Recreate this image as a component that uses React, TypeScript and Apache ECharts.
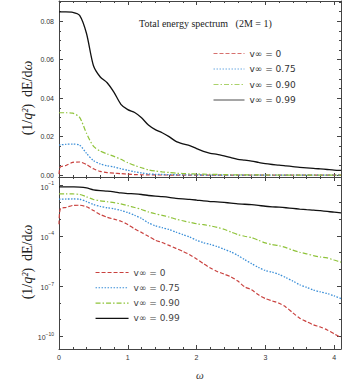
import React, { useEffect, useRef } from "react";
import * as echarts from "echarts";

// ω grid (x values)
const omega = [
  0, 0.02, 0.1, 0.2, 0.3, 0.4, 0.5, 0.6, 0.7, 0.8, 0.9, 1.0, 1.1, 1.2, 1.3, 1.4, 1.5,
  1.6, 1.7, 1.8, 1.9, 2.0, 2.1, 2.2, 2.3, 2.4, 2.5, 2.6, 2.7, 2.8, 2.9, 3.0, 3.1,
  3.2, 3.3, 3.4, 3.5, 3.6, 3.7, 3.8, 3.9, 4.0, 4.1,
];

// (1/q²) dE/dω for v∞ = 0
const specV0 = [
  0.0005, 0.0042, 0.005, 0.0066, 0.0068, 0.0055, 0.0033, 0.0019, 0.0013, 0.001, 0.00075,
  0.00048, 0.00026, 0.00016, 0.000095, 0.000055, 0.00004, 0.000027, 0.000018,
  0.000012, 0.0000075, 0.0000042, 0.0000022, 0.0000012, 0.00000075, 0.00000052,
  0.00000036, 0.0000002, 0.00000009, 0.00000006, 0.00000003, 0.000000018,
  0.000000013, 0.0000000095, 0.0000000055, 0.0000000025, 0.0000000012,
  0.00000000075, 0.00000000048, 0.00000000036, 0.00000000024, 0.00000000014,
  0.000000000085,
];
// v∞ = 0.75
const specV075 = [
  0.0156, 0.0157, 0.016, 0.0161, 0.0156, 0.0113, 0.0075, 0.0058, 0.0048, 0.0042, 0.0033,
  0.0025, 0.0017, 0.0011, 0.0006, 0.0004, 0.00031, 0.00024, 0.00017, 0.00012,
  0.000085, 0.000055, 0.000039, 0.000031, 0.000023, 0.000016, 0.000011,
  0.0000068, 0.0000038, 0.0000022, 0.0000013, 0.00000085, 0.00000068, 0.0000005,
  0.00000032, 0.0000002, 0.00000012, 0.000000085, 0.000000058, 0.000000045,
  0.000000036, 0.000000026, 0.000000018,
];
// v∞ = 0.90
const specV090 = [
  0.0324, 0.0324, 0.0324, 0.0322, 0.03, 0.0217, 0.015, 0.0125, 0.011, 0.0097, 0.0082,
  0.0064, 0.005, 0.0038, 0.0027, 0.0021, 0.0017, 0.00135, 0.001, 0.0008,
  0.00065, 0.00053, 0.00047, 0.0004, 0.00032, 0.00025, 0.00017, 0.00012,
  0.000095, 0.000079, 0.000055, 0.000038, 0.00003, 0.000026, 0.00002, 0.000014,
  0.0000105, 0.0000085, 0.0000066, 0.0000055, 0.0000048, 0.0000036, 0.0000027,
];
// v∞ = 0.99
const specV099 = [
  0.0848, 0.0848, 0.0848, 0.0846, 0.083, 0.0736, 0.057, 0.051, 0.048, 0.043, 0.0368,
  0.034, 0.0325, 0.0298, 0.026, 0.0236, 0.022, 0.02, 0.0175, 0.0162, 0.0153,
  0.0138, 0.0123, 0.0113, 0.0108, 0.01, 0.0091, 0.0082, 0.0078, 0.0073, 0.0066,
  0.0059, 0.0055, 0.0052, 0.0048, 0.0044, 0.004, 0.0037, 0.0035, 0.0032, 0.0029,
  0.0026, 0.0024,
];

const seriesNames = ["v∞ = 0", "v∞ = 0.75", "v∞ = 0.90", "v∞ = 0.99"];
const xTickLabels = [0, 1, 2, 3, 4];
const linTickLabels = [0, 0.02, 0.04, 0.06, 0.08];
const logTickLabels = [-10, -7, -4, -1]; // exponents of 10
const titleText = "Total energy spectrum   (2M = 1)";

export default function App() {
  const ref = useRef<HTMLDivElement>(null);
  useEffect(() => {
    if (!ref.current) return;
    const chart = echarts.init(ref.current, undefined, { renderer: "svg" });

    const frame = "#444";
    const sans = "Liberation Sans";
    const serif = "Liberation Serif";
    const tickLine = { color: frame, width: 1 };

    const xMinor: number[] = [];
    for (let i = 1; i <= 20; i++) {
      const v = Math.round(i * 2) / 10;
      if (Math.abs(v - Math.round(v)) > 1e-9) xMinor.push(v);
    }
    const yLinMinor: number[] = [];
    for (let i = 1; i <= 18; i++) {
      const v = Math.round(i * 5) / 1000;
      if (i % 4 !== 0) yLinMinor.push(v);
    }
    const yLogAll: number[] = [];
    for (let e = -10; e <= -1; e++) yLogAll.push(e);
    const yLogMinor = yLogAll.filter((e) => logTickLabels.indexOf(e) < 0);

    const xAxesFor = (gridIndex: number, withLabels: boolean) => {
      const base = {
        type: "value" as const,
        gridIndex,
        min: 0,
        max: 4.1,
        splitLine: { show: false },
      };
      return [
        {
          ...base,
          position: "bottom",
          axisLine: { show: true, onZero: false, lineStyle: tickLine },
          axisTick: { show: true, inside: true, length: 4, customValues: xTickLabels, lineStyle: tickLine },
          axisLabel: {
            show: withLabels,
            customValues: xTickLabels,
            margin: 5,
            fontFamily: sans,
            fontSize: 7,
            color: "#333",
          },
          name: withLabels ? "ω" : "",
          nameLocation: "middle",
          nameGap: 20,
          nameTextStyle: { fontFamily: serif, fontStyle: "italic", fontSize: 11, color: "#333" },
        },
        {
          ...base,
          position: "bottom",
          axisLine: { show: false, onZero: false },
          axisTick: { show: true, inside: true, length: 2, customValues: xMinor, lineStyle: tickLine },
          axisLabel: { show: false },
        },
        {
          ...base,
          position: "top",
          axisLine: { show: true, onZero: false, lineStyle: tickLine },
          axisTick: { show: true, inside: true, length: 4, customValues: xTickLabels, lineStyle: tickLine },
          axisLabel: { show: false },
        },
        {
          ...base,
          position: "top",
          axisLine: { show: false, onZero: false },
          axisTick: { show: true, inside: true, length: 2, customValues: xMinor, lineStyle: tickLine },
          axisLabel: { show: false },
        },
      ];
    };

    const yTop = { type: "value" as const, gridIndex: 0, min: -0.001, max: 0.0905, splitLine: { show: false } };
    const yBot = { type: "value" as const, gridIndex: 1, min: -10.76, max: -0.48, splitLine: { show: false } };

    const yAxes = [
      {
        ...yTop,
        position: "left",
        axisLine: { show: true, onZero: false, lineStyle: tickLine },
        axisTick: { show: true, inside: true, length: 4, customValues: linTickLabels, lineStyle: tickLine },
        axisLabel: {
          customValues: linTickLabels,
          margin: 5,
          fontFamily: sans,
          fontSize: 7,
          color: "#333",
          formatter: (v: number) => v.toFixed(2),
        },
      },
      {
        ...yTop,
        position: "left",
        axisLine: { show: false, onZero: false },
        axisTick: { show: true, inside: true, length: 2, customValues: yLinMinor, lineStyle: tickLine },
        axisLabel: { show: false },
      },
      {
        ...yTop,
        position: "right",
        axisLine: { show: true, onZero: false, lineStyle: tickLine },
        axisTick: { show: true, inside: true, length: 4, customValues: linTickLabels, lineStyle: tickLine },
        axisLabel: { show: false },
      },
      {
        ...yTop,
        position: "right",
        axisLine: { show: false, onZero: false },
        axisTick: { show: true, inside: true, length: 2, customValues: yLinMinor, lineStyle: tickLine },
        axisLabel: { show: false },
      },
      {
        ...yBot,
        position: "left",
        axisLine: { show: true, onZero: false, lineStyle: tickLine },
        axisTick: { show: true, inside: true, length: 4, customValues: logTickLabels, lineStyle: tickLine },
        axisLabel: {
          customValues: logTickLabels,
          margin: 5,
          formatter: (v: number) => `{b|10}{s|${String(v).replace("-", "−")}}`,
          rich: {
            b: { fontFamily: sans, fontSize: 7, color: "#333", lineHeight: 10, verticalAlign: "bottom" },
            s: { fontFamily: sans, fontSize: 5, color: "#333", lineHeight: 6, verticalAlign: "top" },
          },
        },
      },
      {
        ...yBot,
        position: "left",
        axisLine: { show: false, onZero: false },
        axisTick: { show: true, inside: true, length: 2, customValues: yLogMinor, lineStyle: tickLine },
        axisLabel: { show: false },
      },
      {
        ...yBot,
        position: "right",
        axisLine: { show: true, onZero: false, lineStyle: tickLine },
        axisTick: { show: true, inside: true, length: 4, customValues: logTickLabels, lineStyle: tickLine },
        axisLabel: { show: false },
      },
      {
        ...yBot,
        position: "right",
        axisLine: { show: false, onZero: false },
        axisTick: { show: true, inside: true, length: 2, customValues: yLogMinor, lineStyle: tickLine },
        axisLabel: { show: false },
      },
    ];

    const styles = [
      { color: "#c9413e", type: [4, 2], width: 1.2 },
      { color: "#3b8fd8", type: [1.5, 1.5], width: 1.3 },
      { color: "#8fc33a", type: [5, 2, 1.5, 2], width: 1.2 },
      { color: "#111111", type: "solid", width: 1.3 },
    ];
    const dataSets = [specV0, specV075, specV090, specV099];

    const series: any[] = [];
    dataSets.forEach((arr, k) => {
      series.push({
        type: "line",
        name: seriesNames[k],
        xAxisIndex: 0,
        yAxisIndex: 0,
        data: omega.map((w, i) => [w, arr[i]]),
        symbol: "none",
        showSymbol: false,
        smooth: 0.25,
        clip: true,
        color: styles[k].color,
        lineStyle: styles[k],
        z: k === 3 ? 3 : 2,
      });
    });
    dataSets.forEach((arr, k) => {
      series.push({
        type: "line",
        name: seriesNames[k],
        xAxisIndex: 4,
        yAxisIndex: 4,
        data: omega.map((w, i) => [w, Math.log10(arr[i])]),
        symbol: "none",
        showSymbol: false,
        smooth: 0.25,
        clip: true,
        color: styles[k].color,
        lineStyle: styles[k],
      });
    });

    const yTitle = (cy: number) => ({
      type: "text",
      x: 27,
      y: cy,
      rotation: Math.PI / 2,
      style: {
        text: "(1/{i|q²})  dE/d{i|ω}",
        fontFamily: serif,
        fontSize: 14,
        fill: "#222",
        align: "center",
        verticalAlign: "middle",
        rich: {
          i: { fontFamily: serif, fontSize: 14, fontStyle: "italic", fill: "#222" },
        },
      },
    });

    chart.setOption({
      animation: false,
      backgroundColor: "#fff",
      title: {
        text: titleText,
        left: 139,
        top: 18,
        padding: 0,
        textStyle: { fontFamily: serif, fontSize: 10, fontWeight: "normal", color: "#222" },
      },
      grid: [
        { left: 59, right: 1, top: 1, height: 176 },
        { left: 59, right: 1, top: 177, height: 172 },
      ],
      xAxis: [...xAxesFor(0, false), ...xAxesFor(1, true)],
      yAxis: yAxes,
      legend: [
        {
          orient: "vertical",
          left: 213,
          top: 49,
          padding: 0,
          itemWidth: 31,
          itemHeight: 8,
          itemGap: 6.5,
          selectedMode: false,
          data: seriesNames,
          itemStyle: { opacity: 0 },
          lineStyle: { opacity: 0.75, width: 1 },
          textStyle: { fontFamily: "DejaVu Sans", fontSize: 9, color: "#333" },
        },
        {
          orient: "vertical",
          left: 95,
          top: 268,
          padding: 0,
          itemWidth: 33,
          itemHeight: 8,
          itemGap: 6.3,
          selectedMode: false,
          data: seriesNames,
          itemStyle: { opacity: 0 },
          lineStyle: { width: 1.1 },
          textStyle: { fontFamily: "DejaVu Sans", fontSize: 9, color: "#444" },
        },
      ],
      graphic: [yTitle(98), yTitle(262)],
      series,
    });

    return () => chart.dispose();
  }, []);

  return (
    <div
      ref={ref}
      style={{ position: "fixed", left: 0, top: 0, width: 342, height: 384, background: "#fff" }}
    />
  );
}
